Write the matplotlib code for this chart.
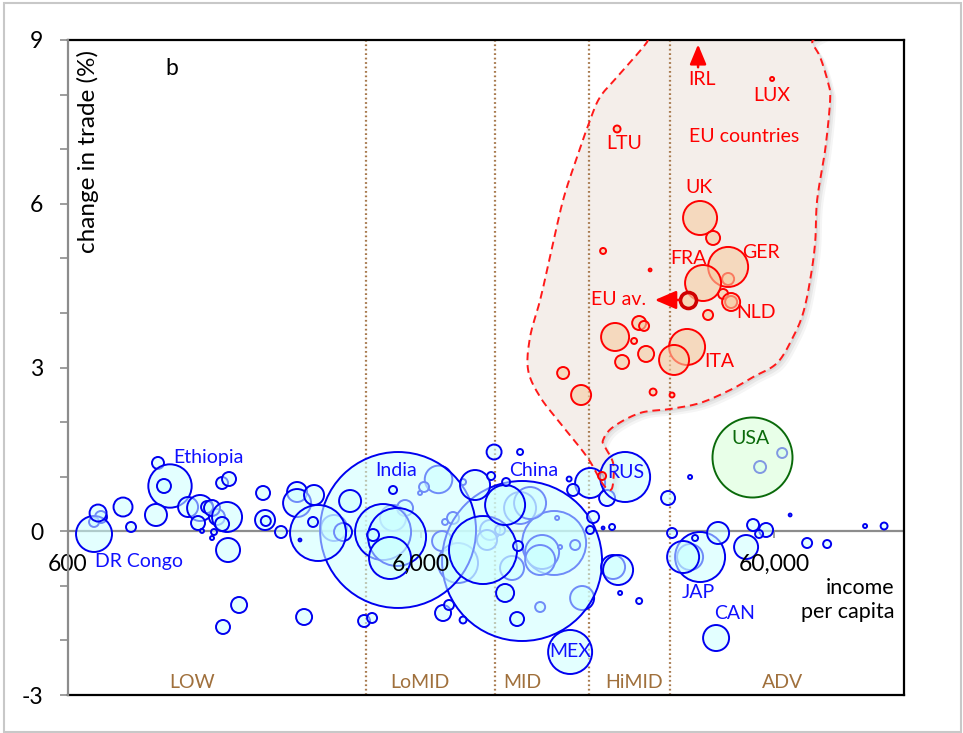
import numpy as np
import matplotlib.pyplot as plt
from matplotlib.patches import Rectangle
import matplotlib.transforms as mtransforms

plt.rcParams['font.family'] = ['Lato', 'DejaVu Sans']

# income group boundaries (income per capita) and group labels
group_bounds = [4200, 9700, 18000, 30500]
group_names = ['LOW', 'LoMID', 'MID', 'HiMID', 'ADV']
group_label_x = [1350, 5960, 11600, 24100, 63600]

# non-EU countries: income per capita, change in trade (%), bubble weight (~trade volume)
# (order matters: later bubbles are drawn on top of earlier ones)
blue_income = [744, 711, 711, 730, 859, 905, 1079, 1167, 1122, 1065,
               1313, 1420, 1486, 1585, 1535, 1401, 1693, 1639, 1535, 1555,
               1438, 1704, 1639, 1715, 1831, 1649, 2141, 2169, 2180, 2407,
               2673, 2673, 2986, 2798,
               6725, 6118, 5961, 6881, 7016, 7391, 4998, 5405, 3401, 14291,
               13215, 13046, 11446, 12217, 10861, 13046, 17154, 9412, 10045, 9229,
               16393, 14860, 14573, 7636,
               11595, 5164,
               8989, 4683, 5131, 4901, 4387, 4998, 3607, 3777, 3065, 2966,
               2724, 7891, 8534, 10380, 11297, 10380, 11224, 9661, 11446, 9473,
               10447, 6925, 7201, 7891, 4138, 4359, 18072, 16178, 15761, 18429,
               18072, 20856, 19668, 20187, 22708, 20993, 21691, 21978, 24884, 34689,
               30049, 30842, 34689, 37025, 33147, 35837, 41640, 49982, 52313, 56946,
               54404, 66613, 74416, 84794, 108604, 122954, 41101, 15864, 54762, 63234]
blue_change = [0.261, 0.170, -0.050, 0.334, 0.444, 0.078, 1.251, 0.829, 0.829, 0.298,
               0.444, 0.426, 0.444, 0.261, 0.426, 0.151, 0.261, 0.133, -0.124, -0.014,
               0.005, -0.344, 0.884, 0.957, -1.351, -1.754, 0.701, 0.206, 0.188, -0.014,
               0.719, 0.517, 0.664, -1.571,
               0.950, 0.811, 0.701, -0.180, 0.170, 0.243, 0.243, 0.426, 0.060, -0.215,
               -0.380, -0.527, 0.426, 0.517, -0.673, -1.388, -1.223, 0.023, 0.023, -0.160,
               -0.252, -0.289, 0.243, -0.582,
               -0.545, 0.023,
               -0.344, -0.014, -0.105, -0.490, -0.069, 0.756, -0.014, 0.554, -0.032, 0.170,
               -0.160, 0.902, 0.847, 0.481, -0.270, -1.131, -1.608, 1.452, 1.452, 1.012,
               0.902, -1.498, -1.351, -1.626, -1.644, -1.589, 0.884, 0.756, 0.957, 0.261,
               0.023, 0.078, 0.060, 0.609, 0.994, -0.655, -0.710, -1.131, -1.278, 0.994,
               0.609, -0.032, -0.472, -0.472, -0.472, -0.124, -0.032, -0.289, 0.114, 0.023,
               -0.050, 0.298, -0.215, -0.234, 0.096, 0.096, -1.956, -2.212, 1.177, 1.434]
blue_weight = [0.36, 0.25, 3.24, 0.72, 0.90, 0.25, 0.36, 4.70, 0.49, 1.21,
               1.00, 1.69, 0.36, 0.64, 0.64, 0.49, 2.25, 0.49, 0.04, 0.09,
               0.04, 1.44, 0.36, 0.49, 0.64, 0.49, 0.49, 1.00, 0.25, 0.36,
               1.00, 1.96, 1.00, 0.64,
               1.90, 0.25, 0.04, 1.00, 0.09, 0.36, 1.69, 0.64, 1.69, 10.24,
               2.89, 2.25, 2.56, 2.56, 1.44, 0.25, 1.44, 1.00, 0.25, 1.00,
               0.25, 0.04, 0.04, 4.00,
               64.0, 60.8,
               11.56, 7.84, 8.41, 4.41, 0.36, 0.16, 0.81, 1.21, 7.84, 0.25,
               0.02, 0.09, 2.25, 4.00, 0.25, 0.81, 0.49, 0.56, 0.09, 0.16,
               0.16, 0.64, 0.25, 0.12, 0.36, 0.25, 2.25, 0.36, 0.06, 0.36,
               0.16, 0.09, 0.02, 0.64, 6.25, 1.44, 2.25, 0.04, 0.09, 0.04,
               0.49, 0.25, 1.69, 6.25, 2.56, 0.09, 1.21, 1.44, 0.36, 0.49,
               0.16, 0.02, 0.25, 0.16, 0.04, 0.12, 1.69, 4.84, 0.36, 0.25]

# USA
usa_income = [51978]
usa_change = [1.360]
usa_weight = [16.0]

# EU countries
eu_income = [44459, 44459, 37025, 40301, 43030, 37756, 45337, 45337, 39006, 34015,
             31250, 21271, 24884, 25696, 24074, 26037, 22267, 15156, 17040, 27253,
             30842, 19668, 26726, 21549, 59222, 19542]
eu_change = [4.622, 4.842, 5.739, 5.373, 4.347, 4.548, 4.200, 4.200, 3.962, 3.376,
             3.138, 3.559, 3.815, 3.761, 3.486, 3.248, 3.101, 2.899, 2.496, 2.551,
             2.496, 5.135, 4.787, 7.370, 8.286, 1.012]
eu_weight = [0.36, 4.00, 2.89, 0.49, 0.25, 3.24, 0.36, 0.81, 0.25, 3.24,
             2.25, 1.96, 0.49, 0.25, 0.09, 0.64, 0.49, 0.36, 1.00, 0.12,
             0.06, 0.09, 0.02, 0.12, 0.04, 0.16]
eu_avg = (34235, 4.237, 0.64)
irl_income = 36545

# outline of the EU region (income, change)
eu_out_income = [26726, 26209, 21549, 19290, 18072, 16603, 15156, 13919, 13046, 12217,
                 12062, 13046, 14860, 17718, 19542, 20584, 20993, 20993, 19921, 19668,
                 20993, 25038, 30442, 37025, 45046, 52313, 61185, 67917, 72519, 75911,
                 78410, 79445, 83712, 86470, 85347, 80993, 76905, 78410]
eu_out_change = [9.202, 8.964, 8.323, 7.956, 7.535, 6.857, 6.069, 5.025, 4.237, 3.559,
                 2.954, 2.460, 1.983, 1.360, 0.884, 0.756, 0.884, 1.251, 1.544, 1.672,
                 1.910, 2.167, 2.240, 2.350, 2.588, 2.826, 3.083, 3.559, 3.999, 4.603,
                 5.281, 6.069, 6.985, 7.901, 8.213, 8.689, 8.964, 9.202]

blue_labels = [('Ethiopia', 1190, 1.36, 'left'), ('DR Congo', 715, -0.563, 'left'),
               ('India', 5098, 1.122, 'center'), ('China', 12499, 1.104, 'center'),
               ('RUS', 22848, 1.085, 'center'), ('MEX', 15864, -2.212, 'center'),
               ('JAP', 36545, -1.131, 'center'), ('CAN', 46218, -1.516, 'center')]
eu_labels = [('UK', 36790, 6.289), ('GER', 55128, 5.098), ('FRA', 34235, 4.988),
             ('NLD', 53350, 3.999), ('ITA', 41912, 3.101), ('LTU', 22556, 7.095),
             ('LUX', 59222, 7.975), ('IRL', 37513, 8.268), ('EU countries', 49335, 7.223)]

xticks = [600, 6000, 60000]
xtick_labels = ['600', '6,000', '60,000']

S = 207.36  # weight -> marker area in points^2

fig = plt.figure(figsize=(9.63, 7.33), dpi=100)
ax = fig.add_axes([68 / 963, 38 / 733, 836 / 963, 655 / 733])
ax.set_xscale('log')
ax.set_xlim(600, 140000)
ax.set_ylim(-3, 9)

# outer frame
fig.add_artist(Rectangle((0.004, 0.002), 0.994, 0.994, transform=fig.transFigure,
                         fill=False, ec='#C8C8C8', lw=1.5))

# EU region: smooth closed curve (Catmull-Rom in log-income space)
px = np.log10(eu_out_income)
py = np.array(eu_out_change)
n = len(px)
cx, cy = [], []
for i in range(n):
    p0, p1, p2, p3 = (i - 1) % n, i, (i + 1) % n, (i + 2) % n
    for t in np.linspace(0, 1, 12, endpoint=False):
        t2, t3 = t * t, t * t * t
        for arr, out in ((px, cx), (py, cy)):
            out.append(0.5 * ((2 * arr[p1]) + (-arr[p0] + arr[p2]) * t +
                              (2 * arr[p0] - 5 * arr[p1] + 4 * arr[p2] - arr[p3]) * t2 +
                              (-arr[p0] + 3 * arr[p1] - 3 * arr[p2] + arr[p3]) * t3))
cx = 10 ** np.array(cx)
cy = np.array(cy)
for off, a in ((6, 0.04), (4, 0.05), (2, 0.06)):
    sh = mtransforms.offset_copy(ax.transData, fig=fig, x=off, y=-off, units='dots')
    ax.fill(cx, cy, color='black', alpha=a, lw=0, transform=sh, zorder=1)
ax.fill(cx, cy, color='#F4EEEA', lw=0, zorder=1.1)
ax.plot(np.append(cx, cx[0]), np.append(cy, cy[0]), color='#FF1A1A', lw=1.4,
        ls=(0, (4, 2.5)), zorder=4)

# income group boundaries
for b in group_bounds:
    ax.axvline(b, color='#A87A4E', lw=1.6, ls=(0, (0.8, 1.2)), zorder=2)
for name, gx in zip(group_names, group_label_x):
    ax.text(gx, -2.78, name, color='#A0703C', fontsize=14, ha='center', va='center')

# zero line with x tick labels
ax.axhline(0, color='#8C8C8C', lw=1.6, zorder=2)
ax.plot(xticks[1:], [0] * (len(xticks) - 1), ls='none', marker=3, ms=5,
        mew=1.2, color='#8C8C8C', zorder=2)
for xv, lab in zip(xticks, xtick_labels):
    ax.annotate(lab, (xv, 0), xytext=(0, -24), textcoords='offset points',
                ha='center', va='center', fontsize=16.5, zorder=6)

# bubbles
ax.scatter(blue_income, blue_change, s=np.array(blue_weight) * S,
           facecolors=(0.8, 1, 1, 0.55), edgecolors='#0000F0', linewidths=1.4, zorder=3)
ax.scatter(usa_income, usa_change, s=np.array(usa_weight) * S,
           facecolors=(0.85, 1, 0.85, 0.6), edgecolors='#0A6A0A', linewidths=1.4, zorder=3.5)
ax.scatter(eu_income, eu_change, s=np.array(eu_weight) * S,
           facecolors=(0.97, 0.80, 0.63, 0.6), edgecolors='#FF0000', linewidths=1.4, zorder=5)
ax.scatter([eu_avg[0]], [eu_avg[1]], s=eu_avg[2] * S, facecolors=(0.97, 0.80, 0.63, 0.7),
           edgecolors='#D00000', linewidths=2.6, zorder=5)

# arrows
ax.annotate('', xy=(27074, eu_avg[1]), xytext=(32928, eu_avg[1]),
            arrowprops=dict(arrowstyle='-|>,head_length=0.65,head_width=0.28',
                            color='#FF0000', lw=1.8, mutation_scale=20), zorder=5)
ax.annotate('', xy=(irl_income, 8.97), xytext=(irl_income, 8.45),
            arrowprops=dict(arrowstyle='-|>,head_length=0.6,head_width=0.25',
                            color='#FF0000', lw=1.8, mutation_scale=20), zorder=5)

# labels
for name, lx, ly, ha in blue_labels:
    ax.text(lx, ly, name, color='#1010FF', fontsize=14, ha=ha, va='center', zorder=6)
ax.text(51300, 1.708, 'USA', color='#0A6A0A', fontsize=14, ha='center', va='center', zorder=6)
for name, lx, ly in eu_labels:
    ax.text(lx, ly, name, color='#FF0000', fontsize=14, ha='center', va='center', zorder=6)
ax.text(26037, eu_avg[1], 'EU av.', color='#FF0000', fontsize=14, ha='right',
        va='center', zorder=6)

ax.text(0.124, 0.957, 'b', transform=ax.transAxes, fontsize=16.5, ha='center', va='center')
ax.text(0.024, 0.985, 'change in trade (%)', transform=ax.transAxes, rotation=90,
        fontsize=17.5, ha='center', va='top')
ax.text(0.989, 0.145, 'income\nper capita', transform=ax.transAxes, fontsize=15.5,
        ha='right', va='center', linespacing=1.3)

# axes styling
ax.set_xticks([])
ax.minorticks_off()
ax.set_yticks(range(-3, 10))
ax.set_yticklabels([str(v) if v % 3 == 0 else '' for v in range(-3, 10)])
ax.tick_params(axis='y', length=6, width=1.2, color='#8C8C8C', labelsize=16.5, pad=12)
for side in ('top', 'right', 'bottom'):
    ax.spines[side].set_color('black')
    ax.spines[side].set_linewidth(1.6)
ax.spines['left'].set_color('#8C8C8C')
ax.spines['left'].set_linewidth(1.6)
ax.spines['left'].set_zorder(7)

fig.savefig('out.png', dpi=100)
